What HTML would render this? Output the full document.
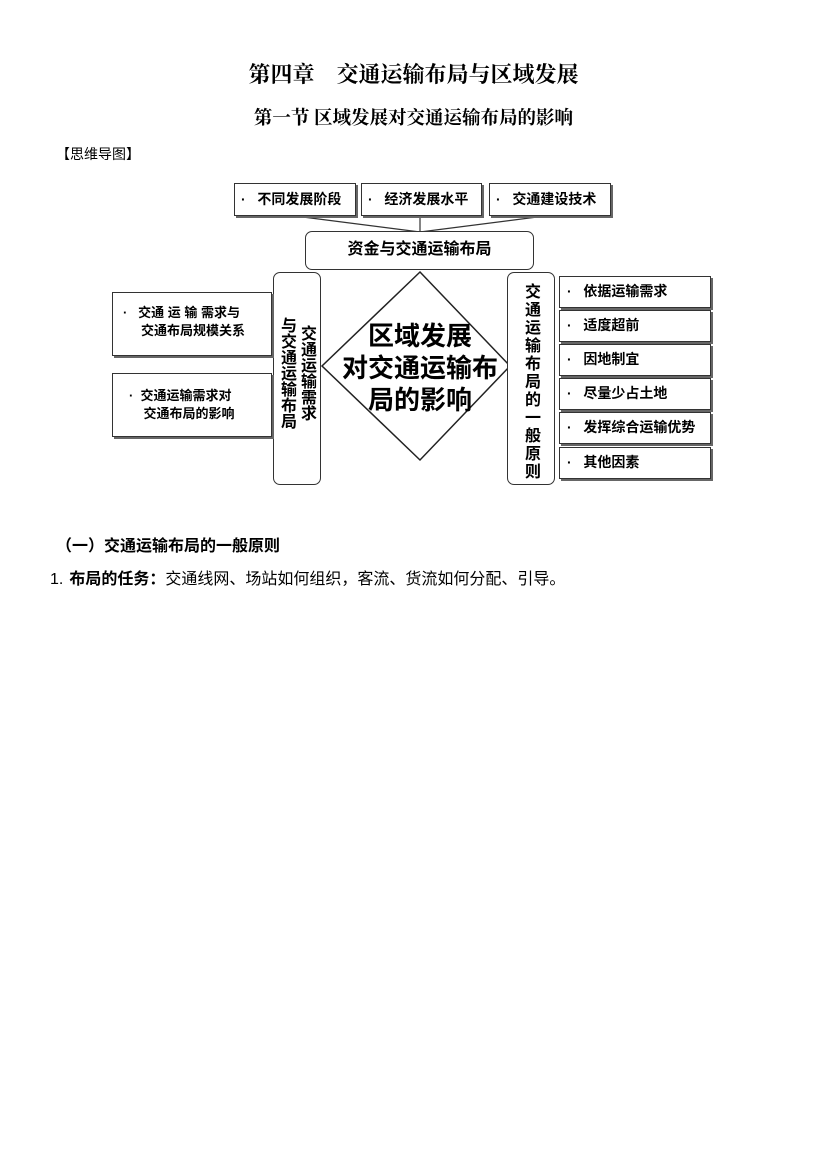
<!DOCTYPE html>
<html><head><meta charset="utf-8"><style>
body{margin:0;width:827px;height:1169px;background:#fff;position:relative;font-family:"Liberation Sans","Noto Sans CJK SC",sans-serif;color:#000}
.a{position:absolute;white-space:nowrap}
.b{position:absolute;border:1.5px solid #333;box-sizing:border-box;background:#fff;font-weight:bold;font-size:14px}
.sh{box-shadow:2px 2px 0 #666}
.v{position:absolute;writing-mode:vertical-rl;font-weight:bold;font-size:15px;line-height:17px;letter-spacing:0}
</style></head><body>
<div class="a" style="left:0;width:827px;text-align:center;top:58px;font-size:22px;font-weight:bold;font-family:'Liberation Serif','Noto Serif CJK SC',serif">第四章　交通运输布局与区域发展</div>
<div class="a" style="left:0;width:827px;text-align:center;top:104px;font-size:18.5px;font-weight:bold;font-family:'Liberation Serif','Noto Serif CJK SC',serif">第一节 区域发展对交通运输布局的影响</div>
<div class="a" style="left:56px;top:144px;font-size:14px">【思维导图】</div>

<svg class="a" style="left:0;top:0" width="827" height="500">
<polyline points="295,216 420,232 545,216" fill="none" stroke="#333" stroke-width="1.2"/>
<line x1="420" y1="216" x2="420" y2="232" stroke="#333" stroke-width="1.2"/>
<polygon points="420,272 510,366 420,460 322,366" fill="#fff" stroke="#222" stroke-width="1.5"/>
</svg>

<div class="b sh" style="left:234px;top:183px;width:122px;height:33px;line-height:30px;padding-left:6px">·&nbsp;&nbsp; 不同发展阶段</div>
<div class="b sh" style="left:361px;top:183px;width:121px;height:33px;line-height:30px;padding-left:6px">·&nbsp;&nbsp; 经济发展水平</div>
<div class="b sh" style="left:489px;top:183px;width:122px;height:33px;line-height:30px;padding-left:6px">·&nbsp;&nbsp; 交通建设技术</div>

<div class="b" style="left:305px;top:231px;width:229px;height:39px;border-radius:7px;text-align:center;line-height:36px;font-size:16px">资金与交通运输布局</div>

<div class="b" style="left:273px;top:272px;width:48px;height:213px;border-radius:7px"></div>
<div class="v" style="left:298px;top:325px;font-size:16px">交通运输需求</div>
<div class="v" style="left:278px;top:317px;font-size:16px">与交通运输布局</div>

<div class="b" style="left:507px;top:272px;width:48px;height:213px;border-radius:7px"></div>
<div class="v" style="left:522px;top:283px;line-height:17px;font-size:16px;letter-spacing:2px">交通运输布局的一般原则</div>

<div class="a" style="left:322px;width:196px;text-align:center;top:320px;font-size:26px;font-weight:bold;line-height:32px">区域发展<br>对交通运输布<br>局的影响</div>

<div class="b sh" style="left:112px;top:292px;width:160px;height:64px;font-size:13px;line-height:18px;padding:11px 0 0 10px">·&nbsp;&nbsp; 交通 运 输 需求与<br>&nbsp;&nbsp;&nbsp;&nbsp;&nbsp;交通布局规模关系</div>
<div class="b sh" style="left:112px;top:373px;width:160px;height:64px;font-size:13px;line-height:18px;padding:13px 0 0 16px">·&nbsp;&nbsp;交通运输需求对<br>&nbsp;&nbsp;&nbsp;&nbsp;交通布局的影响</div>

<div class="b sh" style="left:559px;top:276px;width:152px;height:32px;line-height:29px;padding-left:7px">·&nbsp;&nbsp; 依据运输需求</div>
<div class="b sh" style="left:559px;top:310px;width:152px;height:32px;line-height:29px;padding-left:7px">·&nbsp;&nbsp; 适度超前</div>
<div class="b sh" style="left:559px;top:344px;width:152px;height:32px;line-height:29px;padding-left:7px">·&nbsp;&nbsp; 因地制宜</div>
<div class="b sh" style="left:559px;top:378px;width:152px;height:32px;line-height:29px;padding-left:7px">·&nbsp;&nbsp; 尽量少占土地</div>
<div class="b sh" style="left:559px;top:412px;width:152px;height:32px;line-height:29px;padding-left:7px">·&nbsp;&nbsp; 发挥综合运输优势</div>
<div class="b sh" style="left:559px;top:447px;width:152px;height:32px;line-height:29px;padding-left:7px">·&nbsp;&nbsp; 其他因素</div>

<div class="a" style="left:56px;top:532px;font-size:16px;font-weight:bold">（一）交通运输布局的一般原则</div>
<div class="a" style="left:50px;top:565px;font-size:16px"><span style="margin-right:6px">1.</span><b>布局的任务：</b>交通线网、场站如何组织，客流、货流如何分配、引导。</div>
</body></html>
